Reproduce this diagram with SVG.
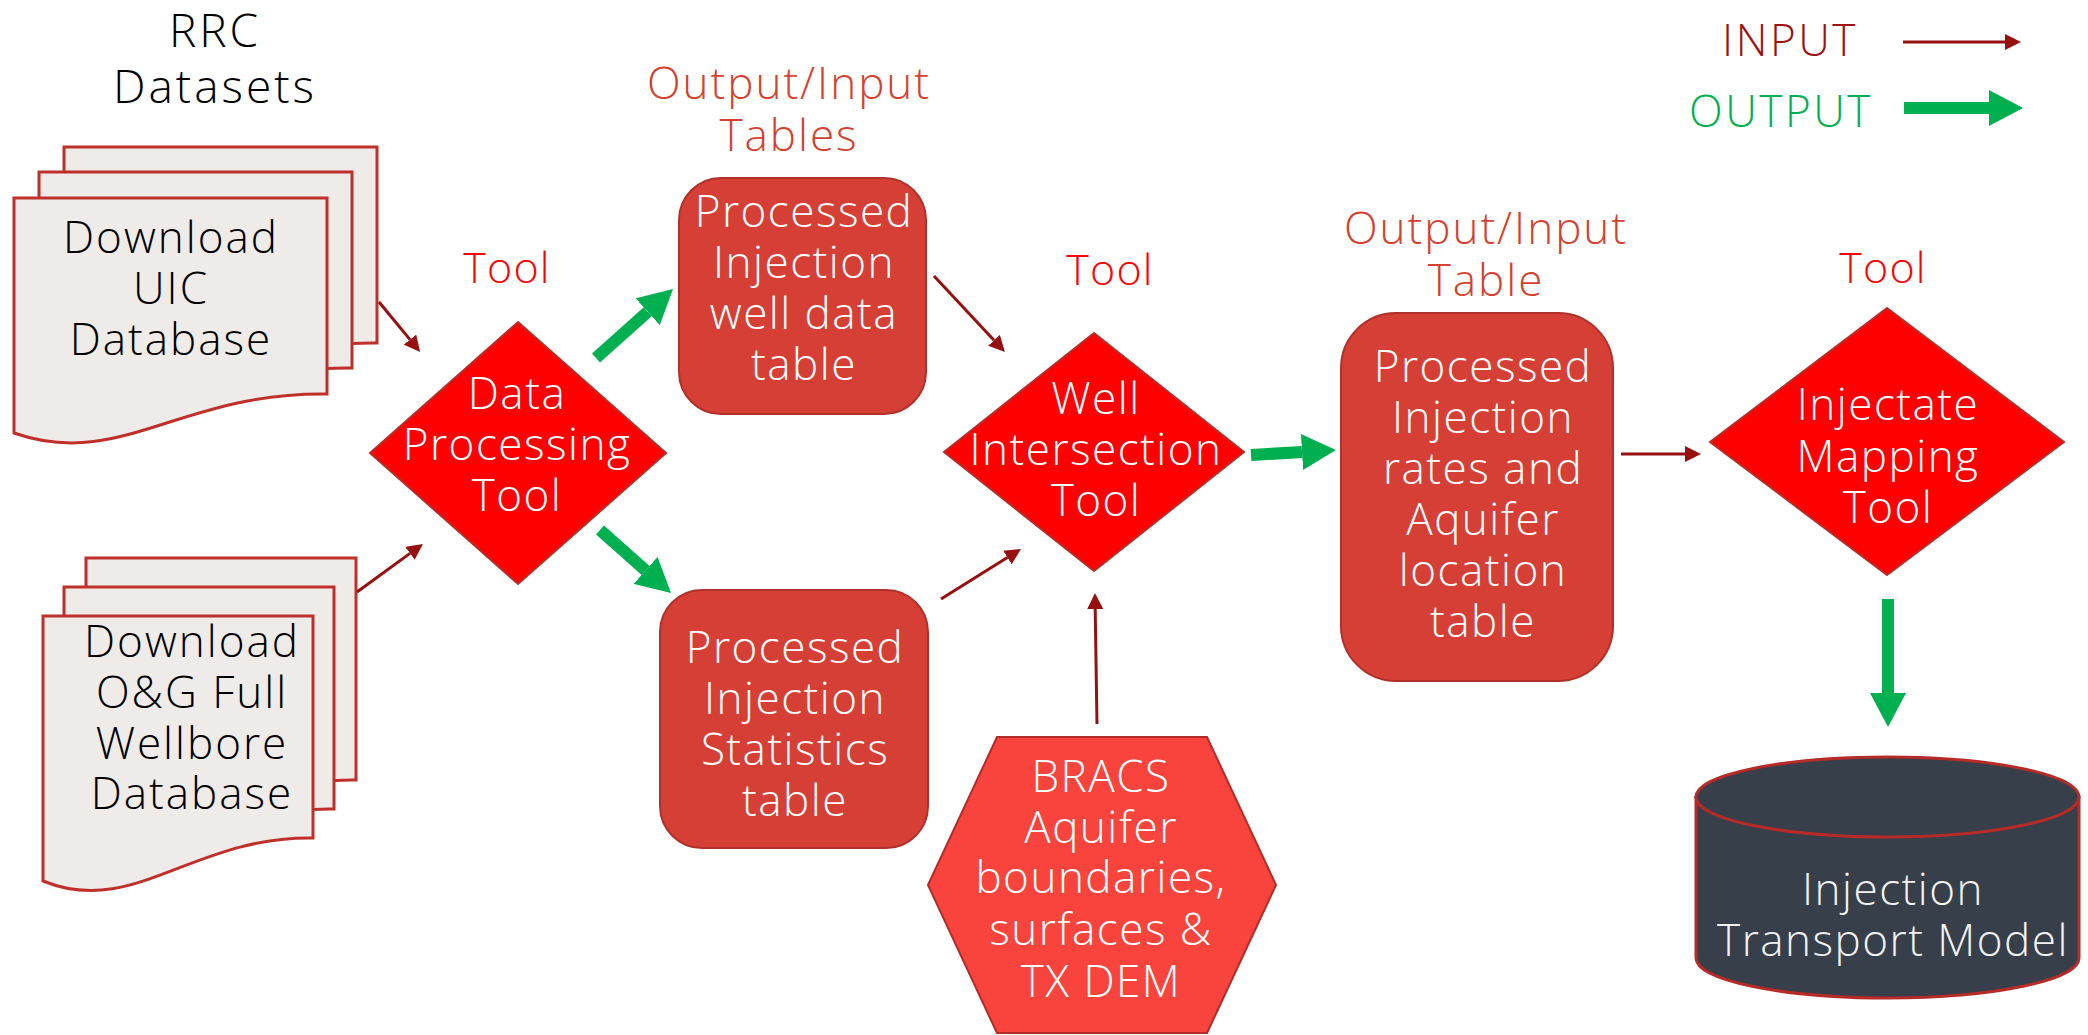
<svg xmlns="http://www.w3.org/2000/svg" xmlns:xlink="http://www.w3.org/1999/xlink" width="2088" height="1035" viewBox="0 0 2088 1035">
<style>
  text { font-family: "Open Sans", "Noto Sans", "Liberation Sans", sans-serif; text-anchor: middle; font-weight: 300; }
  .t { font-size: 44px; letter-spacing: 1.5px; }
  .d { font-size: 44px; letter-spacing: 2px; }
  .w { fill: #ffffff; }
  .k { fill: #000000; }
  .tool { font-size: 43px; fill: #ff0000; letter-spacing: 1.2px; }
  .oi { font-size: 44px; fill: #d5402f; letter-spacing: 2px; }
  .ttl { font-size: 46px; fill: #000000; letter-spacing: 3px; }
  .lg { font-size: 44px; letter-spacing: 2.5px; }
  .doc { fill: #efebe8; stroke: #c0302a; stroke-width: 3; }
  .dia { fill: #ff0000; stroke: #b82c28; stroke-width: 2; }
  .box { fill: #d63f35; stroke: #b0302a; stroke-width: 2; }
  .hex { fill: #f9443e; stroke: #b22c28; stroke-width: 2; }
  .cyl { fill: #363f4a; stroke: #b52b27; stroke-width: 3; }
  .in { stroke: #961010; stroke-width: 3; fill: none; marker-end: url(#ahIn); }
  .out { stroke: #00b050; stroke-width: 12; fill: none; marker-end: url(#ahOut); }
</style>
<defs>
  <marker id="ahIn" markerUnits="userSpaceOnUse" viewBox="0 0 16 16" markerWidth="16" markerHeight="16" refX="0" refY="8" orient="auto">
    <path d="M0,0 L16,8 L0,16 Z" fill="#961010"/>
  </marker>
  <marker id="ahOut" markerUnits="userSpaceOnUse" viewBox="0 0 34 36" markerWidth="34" markerHeight="36" refX="0" refY="18" orient="auto">
    <path d="M0,0 L34,18 L0,36 Z" fill="#00b050"/>
  </marker>
  <path id="page1" d="M0,0 H313 V196 C166,194 106,272 0,235 Z"/>
  <path id="page2" d="M0,0 H270 V222 C150,220 90,302 0,265 Z"/>
</defs>

<g id="title-rrc">
  <text class="ttl" x="215" y="47">RRC</text>
  <text class="ttl" x="215" y="103">Datasets</text>
</g>

<g id="doc-uic">
  <use href="#page1" class="doc" x="64" y="147"/>
  <use href="#page1" class="doc" x="39" y="172"/>
  <use href="#page1" class="doc" x="14" y="198"/>
  <text class="d k" x="171" y="253">Download</text>
  <text class="d k" x="171" y="304">UIC</text>
  <text class="d k" x="171" y="355">Database</text>
</g>

<g id="doc-og">
  <use href="#page2" class="doc" x="86" y="558"/>
  <use href="#page2" class="doc" x="64" y="587"/>
  <use href="#page2" class="doc" x="43" y="616"/>
  <text class="d k" x="192" y="657">Download</text>
  <text class="d k" x="192" y="708">O&amp;G Full</text>
  <text class="d k" x="192" y="759">Wellbore</text>
  <text class="d k" x="192" y="809">Database</text>
</g>

<g id="labels">
  <text class="tool" x="507" y="283">Tool</text>
  <text class="tool" x="1110" y="285">Tool</text>
  <text class="tool" x="1883" y="283">Tool</text>
  <text class="oi" x="789" y="99">Output/Input</text>
  <text class="oi" x="789" y="151">Tables</text>
  <text class="oi" x="1486" y="244">Output/Input</text>
  <text class="oi" x="1486" y="296">Table</text>
</g>

<g id="tool-data-processing">
  <polygon class="dia" points="518,322 666,453 518,584 370,453"/>
  <text class="t w" x="517" y="409">Data</text>
  <text class="t w" x="517" y="460">Processing</text>
  <text class="t w" x="517" y="511">Tool</text>
</g>

<g id="table-well-data">
  <rect class="box" x="679" y="178" width="247" height="236" rx="42" ry="42"/>
  <text class="t w" x="804" y="227">Processed</text>
  <text class="t w" x="804" y="278">Injection</text>
  <text class="t w" x="804" y="329">well data</text>
  <text class="t w" x="804" y="380">table</text>
</g>

<g id="table-statistics">
  <rect class="box" x="660" y="590" width="268" height="258" rx="42" ry="42"/>
  <text class="t w" x="795" y="663">Processed</text>
  <text class="t w" x="795" y="714">Injection</text>
  <text class="t w" x="795" y="765">Statistics</text>
  <text class="t w" x="795" y="816">table</text>
</g>

<g id="tool-well-intersection">
  <polygon class="dia" points="1094,333 1244,452 1094,571 944,452"/>
  <text class="t w" x="1096" y="414">Well</text>
  <text class="t w" x="1096" y="465">Intersection</text>
  <text class="t w" x="1096" y="516">Tool</text>
</g>

<g id="bracs">
  <polygon class="hex" points="928,885 997,737 1207,737 1276,885 1207,1033 997,1033"/>
  <text class="t w" x="1101" y="792">BRACS</text>
  <text class="t w" x="1101" y="843">Aquifer</text>
  <text class="t w" x="1101" y="893">boundaries,</text>
  <text class="t w" x="1101" y="945">surfaces &amp;</text>
  <text class="t w" x="1101" y="997">TX DEM</text>
</g>

<g id="table-rates-aquifer">
  <rect class="box" x="1341" y="313" width="272" height="368" rx="55" ry="55"/>
  <text class="t w" x="1483" y="382">Processed</text>
  <text class="t w" x="1483" y="433">Injection</text>
  <text class="t w" x="1483" y="484">rates and</text>
  <text class="t w" x="1483" y="535">Aquifer</text>
  <text class="t w" x="1483" y="586">location</text>
  <text class="t w" x="1483" y="637">table</text>
</g>

<g id="tool-injectate-mapping">
  <polygon class="dia" points="1887,308 2064,442 1887,575 1710,442"/>
  <text class="t w" x="1888" y="420">Injectate</text>
  <text class="t w" x="1888" y="472">Mapping</text>
  <text class="t w" x="1888" y="523">Tool</text>
</g>

<g id="transport-model">
  <path class="cyl" d="M1696,797 V958 A191.5,40 0 0 0 2079,958 V797 Z"/>
  <ellipse class="cyl" cx="1887.5" cy="797" rx="191.5" ry="40"/>
  <text class="t" x="1893" y="905" fill="#f2f2f2">Injection</text>
  <text class="t" x="1893" y="956" fill="#f2f2f2">Transport Model</text>
</g>

<g id="legend">
  <text class="lg" x="1790" y="56" fill="#9b1212">INPUT</text>
  <text class="lg" x="1781" y="127" fill="#00b050">OUTPUT</text>
  <line class="in" x1="1903" y1="42" x2="2005" y2="42"/>
  <line class="out" x1="1904" y1="108" x2="1989" y2="108"/>
</g>

<g id="connectors">
  <line class="in" x1="379" y1="302" x2="410" y2="339.6"/>
  <line class="in" x1="357" y1="592" x2="410" y2="553.4"/>
  <line class="in" x1="934" y1="276" x2="994" y2="340.3"/>
  <line class="in" x1="941" y1="599" x2="1007.4" y2="557.5"/>
  <line class="in" x1="1097" y1="724" x2="1095.2" y2="609"/>
  <line class="in" x1="1621" y1="454" x2="1685" y2="454"/>
  <line class="out" x1="596" y1="358" x2="647.7" y2="311.7"/>
  <line class="out" x1="600" y1="530" x2="645.6" y2="570.4"/>
  <line class="out" x1="1251" y1="455" x2="1302" y2="452"/>
  <line class="out" x1="1888" y1="599" x2="1888" y2="693"/>
</g>
</svg>
